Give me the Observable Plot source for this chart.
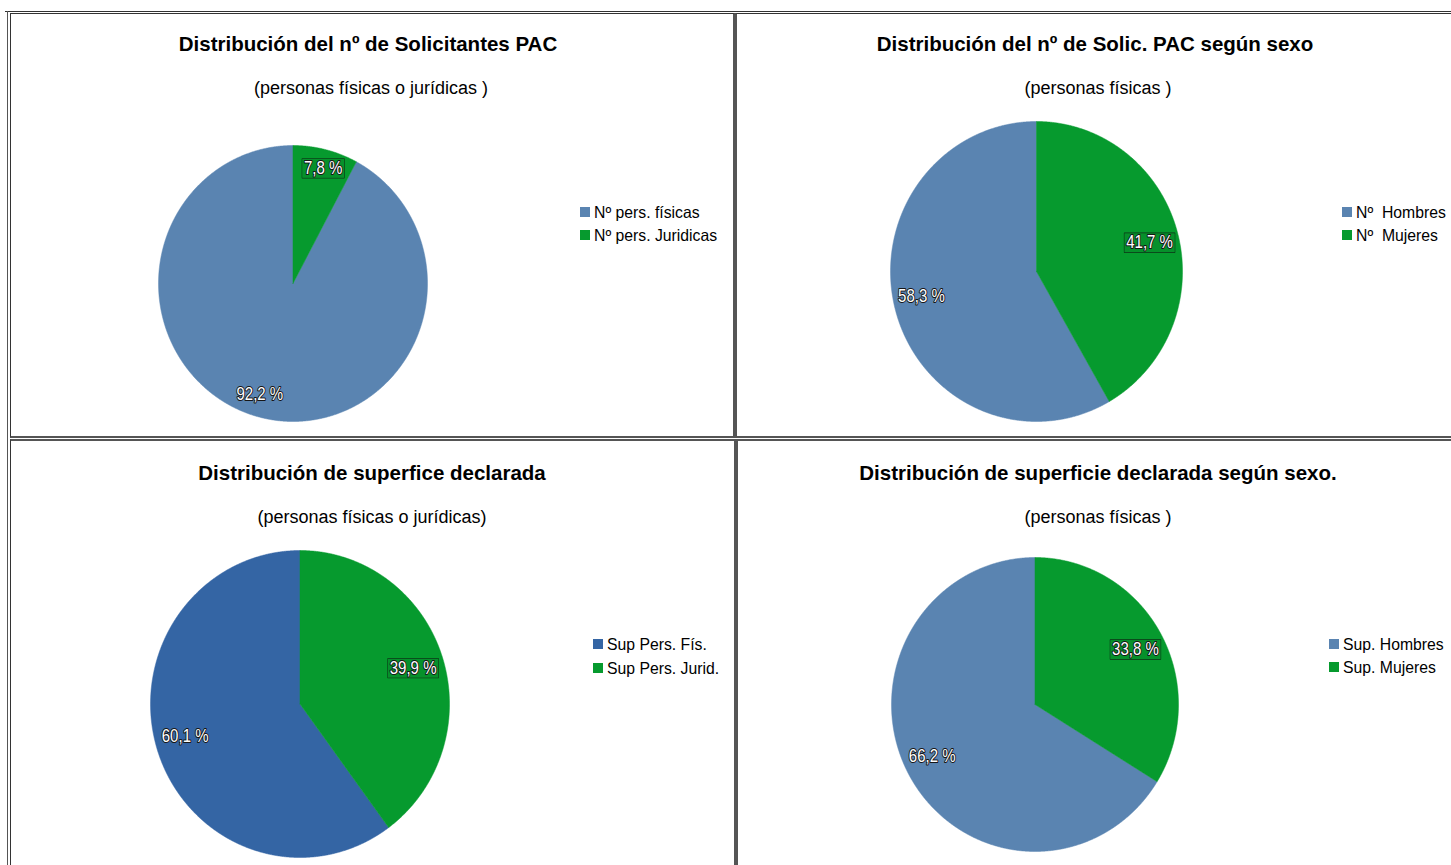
<!DOCTYPE html>
<html><head><meta charset="utf-8">
<script src="https://cdn.jsdelivr.net/npm/d3@7"></script>
<script src="https://cdn.jsdelivr.net/npm/@observablehq/plot@0.6"></script>
<style>
html,body{margin:0;padding:0;background:#fff;}
body{width:1451px;height:865px;overflow:hidden;position:relative;font-family:"Liberation Sans",Arial,sans-serif;}
.abs{position:absolute;}
.box{position:absolute;box-sizing:border-box;border:1px solid #333;background:#fff;}
.t{position:absolute;white-space:nowrap;line-height:0;height:0;transform:translateX(-50%);color:#000;}
.title{font-weight:bold;font-size:20.5px;}
.sub{font-size:18px;}
.leg{position:absolute;white-space:pre;line-height:0;height:0;font-family:"Liberation Sans",Arial,sans-serif;font-size:16.5px;color:#000;transform:scaleX(0.955);transform-origin:0 0;}
.sw{position:absolute;width:10px;height:10px;}
svg{position:absolute;overflow:visible;}
</style>
</head><body>
<script>
// ---- data ----
const titles = [
  "Distribución del nº de Solicitantes PAC",
  "Distribución del nº de Solic. PAC según sexo",
  "Distribución de superfice declarada",
  "Distribución de superficie declarada según sexo."
];
const subtitles = [
  "(personas físicas o jurídicas )",
  "(personas físicas )",
  "(personas físicas o jurídicas)",
  "(personas físicas )"
];
const categories1 = ["Nº pers. físicas", "Nº pers. Juridicas"];
const categories2 = ["Nº  Hombres", "Nº  Mujeres"];
const categories3 = ["Sup Pers. Fís.", "Sup Pers. Jurid."];
const categories4 = ["Sup. Hombres", "Sup. Mujeres"];
const values1 = [92.2, 7.8];
const values2 = [58.3, 41.7];
const values3 = [60.1, 39.9];
const values4 = [66.2, 33.8];

// ---- layout / style ----
const categories = [categories1, categories2, categories3, categories4];
const values = [values1, values2, values3, values4];
const firstColors = ["#5a84b1", "#5a84b1", "#3465a4", "#5a84b1"];
const green = "#069a2e";
const layout = [
  {cx:292.5, cy:283, rx:134.5, ry:138, lr:[0.842, 0.865], tx:368, ty:44, sx:371, sy:88, lgx:580, lgy:[212,235]},
  {cx:1036, cy:271, rx:146, ry:150, lr:[0.805, 0.798], tx:1095, ty:44, sx:1098, sy:88, lgx:1342, lgy:[212,235]},
  {cx:299.5, cy:703.5, rx:149.5, ry:153.5, lr:[0.796, 0.792], tx:372, ty:473, sx:372, sy:517, lgx:593, lgy:[644,668]},
  {cx:1034.5, cy:704, rx:143.5, ry:147, lr:[0.798, 0.794], tx:1098, ty:473, sx:1098, sy:517, lgx:1329, lgy:[644,667]}
];
const labelAngleShift = [3, 1]; // degrees, clockwise, for [first, second] slice labels

function el(tag, cls, style, text) {
  const e = document.createElement(tag);
  if (cls) e.className = cls;
  Object.assign(e.style, style || {});
  if (text != null) e.textContent = text;
  document.body.appendChild(e);
  return e;
}

// frame lines
el("div", "abs", {left:"5px", top:"11px", width:"1446px", height:"1px", background:"#333"});
el("div", "abs", {left:"7px", top:"11px", width:"1px", height:"854px", background:"#555"});
el("div", "box", {left:"10px", top:"13px", width:"725px", height:"425px", borderRight:"2px solid #555", borderBottom:"2px solid #555"});
el("div", "box", {left:"735px", top:"13px", width:"730px", height:"425px", borderLeft:"2px solid #555", borderBottom:"2px solid #555"});
el("div", "box", {left:"10px", top:"439px", width:"726px", height:"440px", borderRight:"2px solid #555", borderTop:"2px solid #555"});
el("div", "box", {left:"736px", top:"439px", width:"730px", height:"440px", borderLeft:"2px solid #555", borderTop:"2px solid #555"});

const fmt = v => v.toFixed(1).replace(".", ",") + " %";
const SVGNS = "http://www.w3.org/2000/svg";

layout.forEach((L, i) => {
  const cats = categories[i], vals = values[i];
  const colors = [firstColors[i], green];
  el("div", "t title", {left: L.tx + "px", top: L.ty + "px"}, titles[i]);
  el("div", "t sub", {left: L.sx + "px", top: L.sy + "px"}, subtitles[i]);

  // slices: counter-clockwise from 12 o'clock (angle measured clockwise from top)
  const total = d3.sum(vals);
  let cum = 0;
  const pts = [], labels = [];
  vals.forEach((v, j) => {
    const a0 = -cum / total * 2 * Math.PI;
    cum += v;
    const a1 = -cum / total * 2 * Math.PI;
    const n = Math.max(2, Math.ceil(Math.abs(a1 - a0) / 0.005));
    pts.push({cat: cats[j], x: 0, y: 0});
    for (let k = 0; k <= n; k++) {
      const a = a0 + (a1 - a0) * k / n;
      pts.push({cat: cats[j], x: Math.sin(a), y: Math.cos(a)});
    }
    pts.push({cat: cats[j], x: 0, y: 0});
    const am = (a0 + a1) / 2 + labelAngleShift[j] * Math.PI / 180;
    labels.push({cat: cats[j], j, text: fmt(v), x: L.lr[j] * Math.sin(am), y: L.lr[j] * Math.cos(am)});
  });

  const svg = Plot.plot({
    width: 2 * L.rx, height: 2 * L.ry, margin: 0,
    x: {domain: [-1, 1], axis: null},
    y: {domain: [-1, 1], axis: null},
    color: {domain: cats, range: colors},
    marks: [
      Plot.line(pts, {x: "x", y: "y", z: "cat", fill: "cat", stroke: "cat", strokeWidth: 0.5, curve: "linear"}),
      Plot.text(labels, {x: "x", y: "y", text: "text", fill: "white", stroke: "#161616", strokeWidth: 2, paintOrder: "stroke", fontSize: 17.5, fontFamily: "Liberation Sans, sans-serif", textAnchor: "middle"})
    ]
  });
  svg.style.left = (L.cx - L.rx) + "px";
  svg.style.top = (L.cy - L.ry) + "px";
  svg.style.background = "transparent";
  document.body.appendChild(svg);

  const boxedText = fmt(vals[1]);
  svg.querySelectorAll("text").forEach(t => {
    if (!labels.some(d => d.text === t.textContent)) return;
    // condense label glyphs horizontally (narrow font look)
    const b0 = t.getBBox();
    const cxl = b0.x + b0.width / 2, cyl = b0.y + b0.height / 2;
    const prev = t.getAttribute("transform") || "";
    const sq = ` translate(${cxl},${cyl}) scale(0.86,1) translate(${-cxl},${-cyl})`;
    t.setAttribute("transform", (prev + sq).trim());
    if (t.textContent === boxedText) {
      const rect = document.createElementNS(SVGNS, "rect");
      rect.setAttribute("x", b0.x - 2);
      rect.setAttribute("y", b0.y + 1);
      rect.setAttribute("width", b0.width + 4);
      rect.setAttribute("height", b0.height - 1);
      rect.setAttribute("fill", "#06902b");
      rect.setAttribute("stroke", "#0d3216");
      rect.setAttribute("stroke-width", "1.3");
      rect.setAttribute("transform", (prev + sq).trim());
      t.parentNode.insertBefore(rect, t);
    }
  });

  // legend
  cats.forEach((c, j) => {
    el("div", "sw", {left: L.lgx + "px", top: (L.lgy[j] - 5) + "px", background: colors[j]});
    el("div", "leg", {left: (L.lgx + 14) + "px", top: L.lgy[j] + "px"}, c);
  });
});
</script>
</body></html>
